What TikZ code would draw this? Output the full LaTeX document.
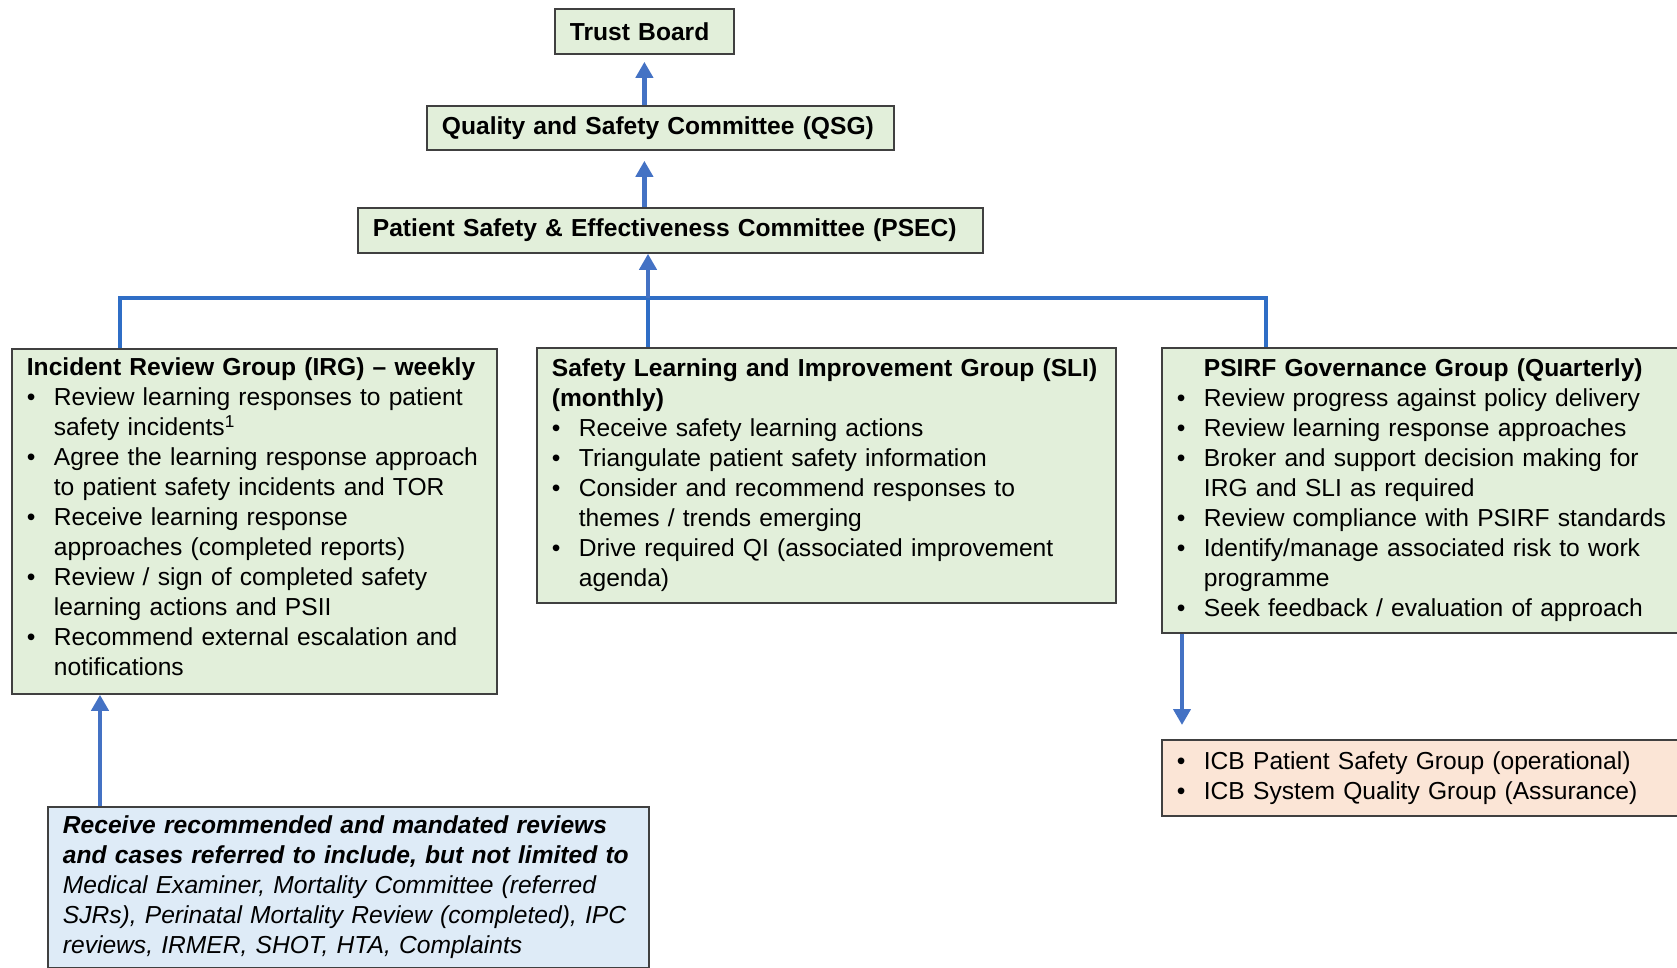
\documentclass[tikz,border=0pt]{standalone}
\usepackage{fontspec}
\setmainfont{Liberation Sans}
\usetikzlibrary{arrows.meta}
\definecolor{boxgreen}{HTML}{E2EFDA}
\definecolor{boxblue}{HTML}{DEEBF7}
\definecolor{boxpeach}{HTML}{FBE5D6}
\definecolor{edgegray}{HTML}{404040}
\definecolor{linkblue}{HTML}{4472C4}
\definecolor{busblue}{HTML}{2F6EC6}
\newcommand{\bitem}[1]{\hangindent=13.5pt\hangafter=1\noindent\makebox[13.5pt][l]{\textbullet}#1\par}
\begin{document}
\begin{tikzpicture}[x=0.5pt, y=-0.5pt, font=\fontsize{12.3}{15}\selectfont,
  box/.style={draw=edgegray, line width=0.9pt, fill=boxgreen, anchor=north west, inner xsep=7.5pt, inner ysep=0pt, align=left},
  arrow/.style={linkblue, line width=2.2pt, -{Triangle[width=8.5pt,length=8pt]}},
  bus/.style={busblue, line width=2pt}]
  \useasboundingbox (0,0) rectangle (1677,968);
  \node[box, text width=74.5pt, minimum height=22.5pt] (tb) at (554,8) {\bfseries Trust Board};
  \node[box, text width=218.5pt, minimum height=22pt] (qsc) at (426,105) {\bfseries Quality and Safety Committee (QSG)};
  \node[box, text width=297.5pt, minimum height=22.5pt] (psec) at (357,207) {\bfseries Patient Safety \& Effectiveness Committee (PSEC)};
  \node[box, text width=227.5pt, minimum height=172.5pt] (irg) at (11,348) {\textbf{Incident Review Group (IRG) – weekly}\par
    \bitem{Review learning responses to patient\newline safety incidents\textsuperscript{1}}
    \bitem{Agree the learning response approach\newline to patient safety incidents and TOR}
    \bitem{Receive learning response\newline approaches (completed reports)}
    \bitem{Review / sign of completed safety\newline learning actions and PSII}
    \bitem{Recommend external escalation and\newline notifications\strut}};
  \node[box, text width=274.5pt, minimum height=127.5pt] (sli) at (536,347) {\textbf{Safety Learning and Improvement Group (SLI)}\newline\textbf{(monthly)}\par
    \bitem{Receive safety learning actions}
    \bitem{Triangulate patient safety information}
    \bitem{Consider and recommend responses to\newline themes / trends emerging}
    \bitem{Drive required QI (associated improvement\newline agenda)}};
  \node[box, text width=265pt, minimum height=142.5pt] (psirf) at (1161,347) {\hspace*{13.5pt}\textbf{PSIRF Governance Group (Quarterly)}\par
    \bitem{Review progress against policy delivery}
    \bitem{Review learning response approaches}
    \bitem{Broker and support decision making for\newline IRG and SLI as required}
    \bitem{Review compliance with PSIRF standards}
    \bitem{Identify/manage associated risk to work\newline programme}
    \bitem{Seek feedback / evaluation of approach}};
  \node[box, fill=boxpeach, text width=265pt, minimum height=38pt] (icb) at (1161,739) {\bitem{ICB Patient Safety Group (operational)}
    \bitem{ICB System Quality Group (Assurance)}};
  \node[box, fill=boxblue, text width=285.5pt, inner ysep=4.5pt] (input) at (47,806) {{\bfseries\itshape Receive recommended and mandated reviews\newline and cases referred to include, but not limited to}\newline
    \itshape Medical Examiner, Mortality Committee (referred\newline SJRs), Perinatal Mortality Review (completed), IPC\newline reviews, IRMER, SHOT, HTA, Complaints};
  \coordinate (busL) at (120,298);
  \coordinate (busM) at (648,298);
  \coordinate (busR) at (1266,298);
  \draw[bus] (irg.north -| busL) -- (busL) -- (busR) -- (psirf.north -| busR);
  \draw[bus] (sli.north -| busM) -- (busM);
  \draw[arrow] (busM) -- (psec.south -| busM);
  \draw[arrow] (psec.north -| tb.south) -- ([yshift=-5pt]qsc.south -| tb.south);
  \draw[arrow] (qsc.north -| tb.south) -- ([yshift=-3.5pt]tb.south);
  \draw[arrow] ([xshift=26.5pt]input.north west) -- ([xshift=26.5pt]input.north west |- irg.south);
  \draw[arrow] ([xshift=10.5pt]psirf.south west) -- ([xshift=10.5pt, yshift=7pt]icb.north west);
\end{tikzpicture}
\end{document}
